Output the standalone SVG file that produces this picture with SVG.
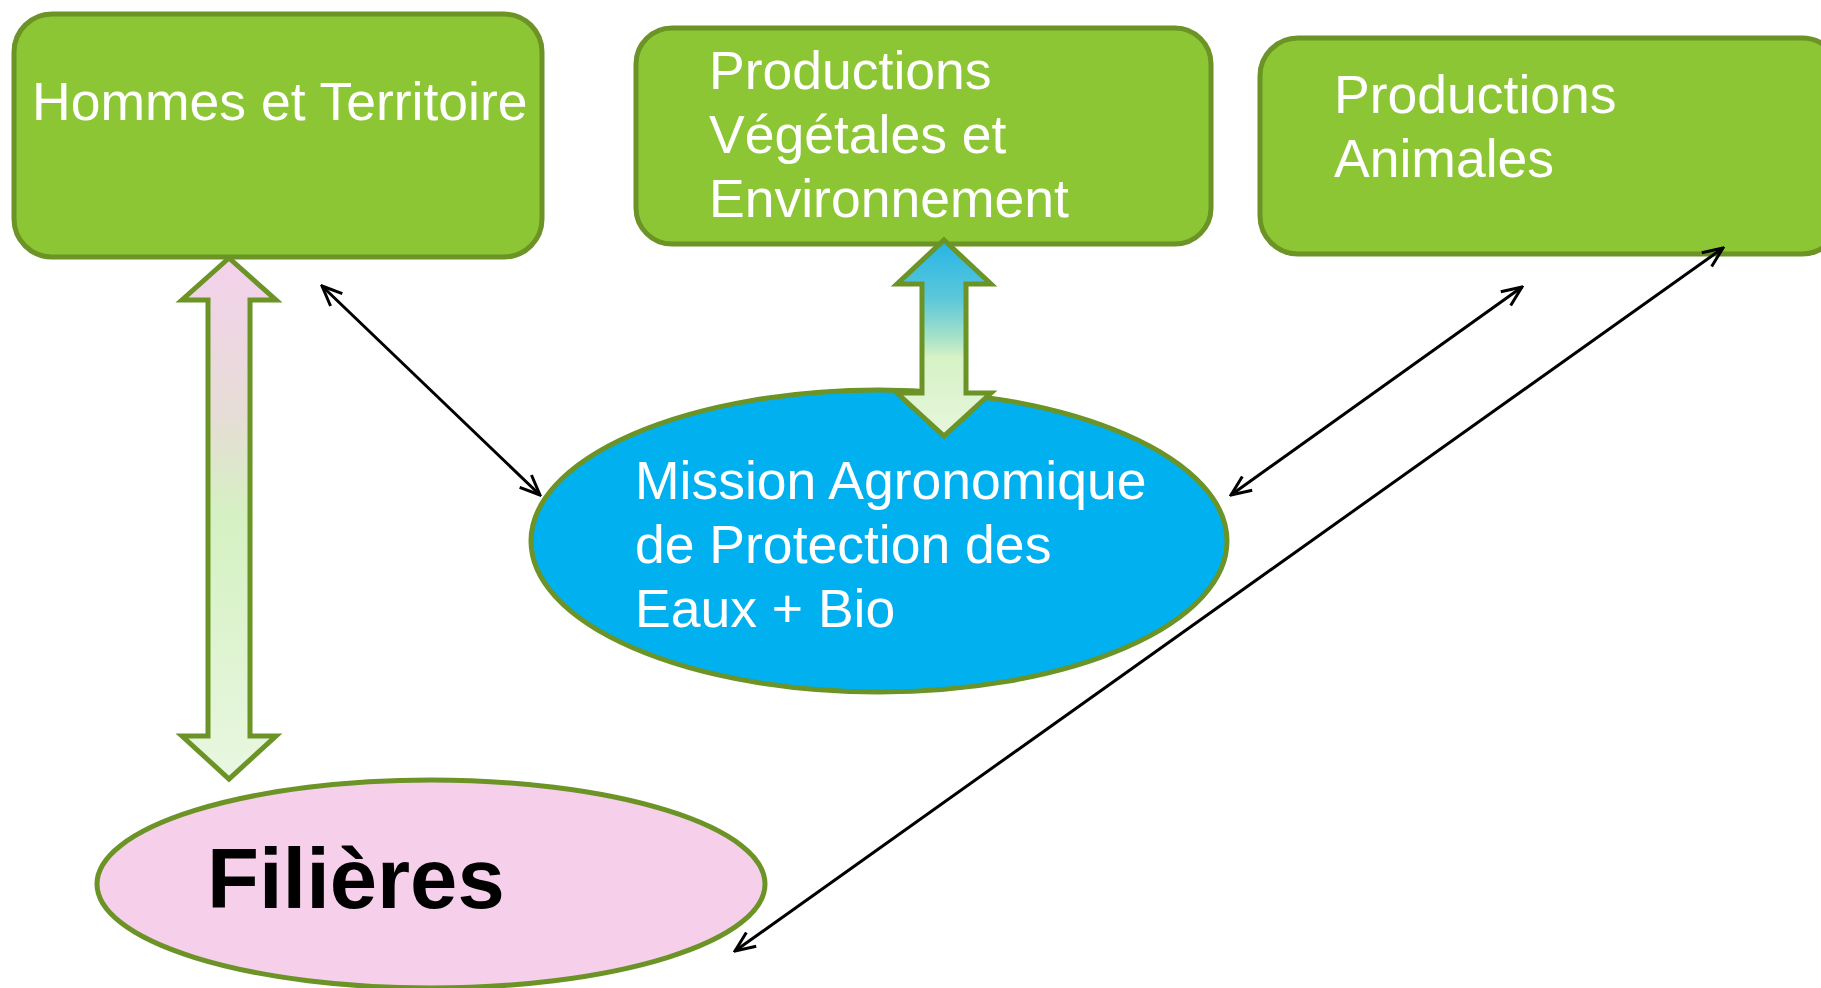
<svg xmlns="http://www.w3.org/2000/svg" width="1821" height="988" viewBox="0 0 1821 988">
<style>
.box{fill:#8DC635;stroke:#6B9326;stroke-width:5}
.ell{stroke:#6B9326;stroke-width:5}
.arr{stroke:#6B9326;stroke-width:5;stroke-linejoin:miter}
.t{font-family:"Liberation Sans",Arial,sans-serif;font-size:53.5px;fill:#FFFFFF}
.tb{font-family:"Liberation Sans",Arial,sans-serif;font-size:85px;font-weight:bold;fill:#000000}
.con{stroke:#000000;stroke-width:3;fill:none;marker-start:url(#head);marker-end:url(#head)}
</style>
<defs>
<marker id="head" viewBox="0 0 24 20" refX="22" refY="10" markerWidth="24" markerHeight="20" markerUnits="userSpaceOnUse" orient="auto-start-reverse">
<path d="M2,1.5 L22,10 L2,18.5" fill="none" stroke="#000000" stroke-width="3"/>
</marker>
<linearGradient id="gPink" x1="0" y1="0" x2="0" y2="1">
<stop offset="0" stop-color="#F4D1EC"/>
<stop offset="0.3" stop-color="#E6DDD6"/>
<stop offset="0.5" stop-color="#D5F1C2"/>
<stop offset="1" stop-color="#E9F7E1"/>
</linearGradient>
<linearGradient id="gBlue" x1="0" y1="0" x2="0" y2="1">
<stop offset="0" stop-color="#25B4E6"/>
<stop offset="0.3" stop-color="#5CC8DA"/>
<stop offset="0.5" stop-color="#A6E2C8"/>
<stop offset="0.6" stop-color="#D7F2C6"/>
<stop offset="1" stop-color="#E6F6DC"/>
</linearGradient>
</defs>

<g id="node-hommes">
<rect class="box" x="14" y="14" width="528" height="243" rx="38" ry="38"/>
<text class="t" x="32" y="120">Hommes et Territoire</text>
</g>

<g id="node-vegetales">
<rect class="box" x="636" y="28" width="575" height="216" rx="36" ry="36"/>
<text class="t" x="709" y="89">Productions</text>
<text class="t" x="709" y="153">Végétales et</text>
<text class="t" x="709" y="217">Environnement</text>
</g>

<g id="node-animales">
<rect class="box" x="1260" y="38" width="580" height="216" rx="38" ry="38"/>
<text class="t" x="1334" y="113">Productions</text>
<text class="t" x="1334" y="177">Animales</text>
</g>

<g id="node-mission">
<ellipse class="ell" cx="879" cy="541" rx="348" ry="151" fill="#00B0EF"/>
<text class="t" x="635" y="499">Mission Agronomique</text>
<text class="t" x="635" y="563">de Protection des</text>
<text class="t" x="635" y="627">Eaux + Bio</text>
</g>

<g id="node-filieres">
<ellipse class="ell" cx="431" cy="884" rx="334" ry="104" fill="#F6CFEA"/>
<text class="tb" x="207" y="908">Filières</text>
</g>

<g id="connectors">
<polygon class="arr" fill="url(#gPink)" points="229,258 276,300 250,300 250,736 276,736 229,779 182,736 208,736 208,300 182,300"/>
<polygon class="arr" fill="url(#gBlue)" points="944,240 991,284 966,284 966,393 991,393 944,436 897,393 922,393 922,284 897,284"/>
<line class="con" x1="322" y1="286" x2="540" y2="495"/>
<line class="con" x1="1522" y1="287" x2="1231" y2="495"/>
<line class="con" x1="1723" y1="248" x2="735" y2="951"/>
</g>
</svg>
